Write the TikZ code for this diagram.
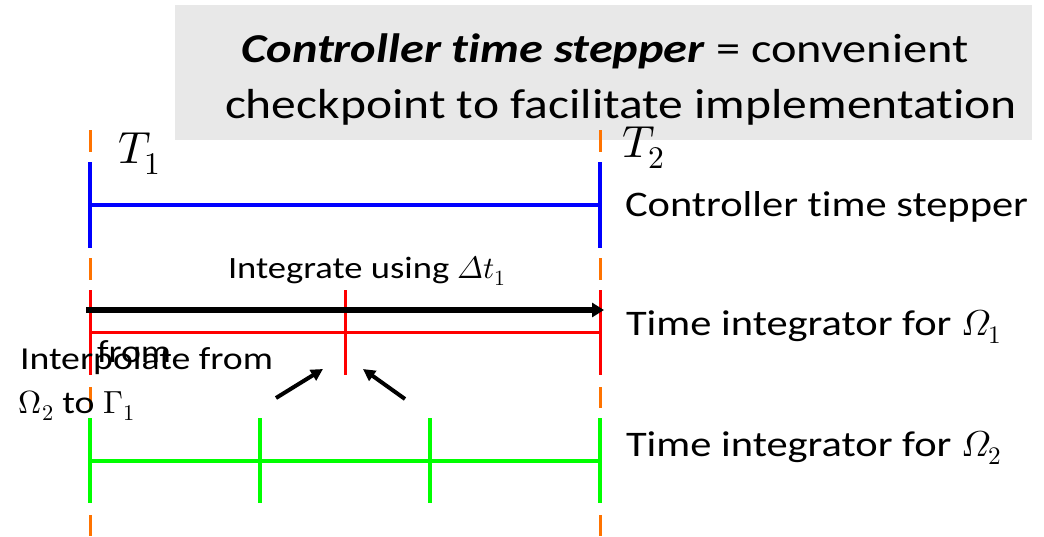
\documentclass[tikz,border=0pt]{standalone}
\usepackage{fontspec}
\usepackage{unicode-math}
\setmainfont{Carlito}[FakeStretch=1.18, Ligatures=NoCommon]
\setmathfont{Latin Modern Math}
\usetikzlibrary{arrows.meta}
\begin{document}
\begin{tikzpicture}[x=1pt,y=-1pt,
  lbl/.style={anchor=base west,inner sep=0pt,outer sep=0pt,font=\fontsize{36}{40}\selectfont},
  small/.style={anchor=base west,inner sep=0pt,outer sep=0pt,font=\fontsize{32}{36}\selectfont},
  toplbl/.style={anchor=base,inner sep=0pt,font=\fontsize{42}{48}\selectfont},
  tlbl/.style={anchor=base west,inner sep=0pt,font=\fontsize{45}{50}\selectfont},
  ctrl/.style={draw=blue,line width=4pt},
  sub1/.style={draw=red,line width=3pt},
  sub2/.style={draw=green,line width=4pt},
  guide/.style={draw=orange!90!red,line width=3pt},
  hint/.style={draw=black,line width=4pt,-{Triangle[length=12pt,width=12pt]}},
  maintip/.style={draw=black,line width=6pt,-{Triangle[length=12pt,width=14pt]}}]
\useasboundingbox (0,0) rectangle (1044,536);

% heading box
\fill[black!9] (175,5) rectangle (1032,140);
\node[toplbl,font=\fontsize{41}{48}\selectfont] (head1) at (605,62) {\textbf{\textit{Controller time stepper}} = convenient};
\node[toplbl] (head2) at (621,118) {checkpoint to facilitate implementation};

% orange guide dashes at T1 and T2
\foreach \x in {90,600}{
  \draw[guide] (\x,130) -- (\x,152);
  \draw[guide] (\x,258) -- (\x,280);
  \draw[guide] (\x,387) -- (\x,408);
  \draw[guide] (\x,515) -- (\x,536);
}

% controller time stepper
\coordinate (c1) at (90,205);
\coordinate (c2) at (600,205);
\draw[ctrl] (90,162) -- (90,248);
\draw[ctrl] (600,162) -- (600,248);
\draw[ctrl] (c1) -- (c2);
\node[tlbl] (t1) at (118,163) {$T_1$};
\node[tlbl] (t2) at (622,157) {$T_2$};
\node[lbl] (lc) at (625,216) {Controller time stepper};

% integrator for Omega 1
\coordinate (r1) at (90,332);
\coordinate (r2) at (600,332);
\draw[sub1] (90,290) -- (90,375);
\draw[sub1] (345,290) -- (345,375);
\draw[sub1] (600,290) -- (600,375);
\draw[sub1] (r1) -- (r2);
\coordinate (a1) at (86,310);
\coordinate (a2) at (604,310);
\draw[maintip] (a1) -- (a2);
\node[small,font=\fontsize{31}{36}\selectfont] (integ) at (228,278) {Integrate using $\symit{\Delta} t_1$};
\node[lbl] (l1) at (626,335) {Time integrator for $\symit{\Omega}_1$};

% integrator for Omega 2
\coordinate (g1) at (90,461);
\coordinate (g2) at (600,461);
\draw[sub2] (90,418) -- (90,503);
\draw[sub2] (260,418) -- (260,503);
\draw[sub2] (430,418) -- (430,503);
\draw[sub2] (600,418) -- (600,503);
\draw[sub2] (g1) -- (g2);
\node[lbl] (l2) at (626,456) {Time integrator for $\symit{\Omega}_2$};

% interpolation note
\node[small] (interp) at (20,369) {Interpolate from};
\node[small] (from) at (97,362) {from};
\node[small] (omg) at (19,413) {$\Omega_2$ to $\Gamma_1$};
\coordinate (p1) at (276,398);
\coordinate (p2) at (323,369);
\coordinate (q1) at (405,399);
\coordinate (q2) at (363,369);
\draw[hint] (p1) -- (p2);
\draw[hint] (q1) -- (q2);
\end{tikzpicture}
\end{document}
